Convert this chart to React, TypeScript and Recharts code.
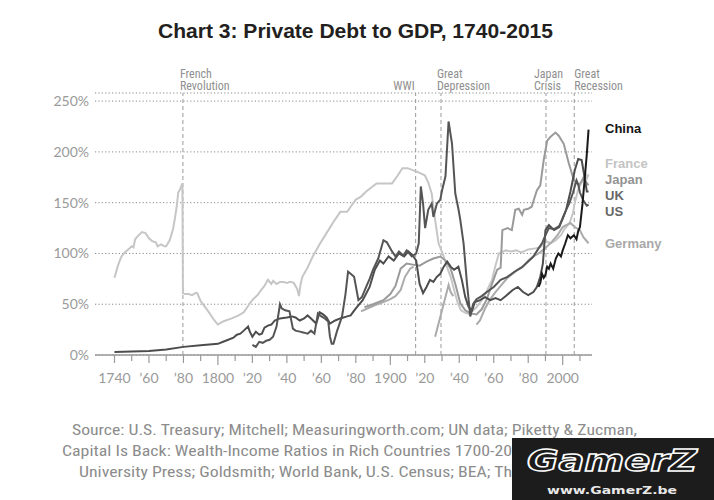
import React from "react";
import { LineChart, Line, XAxis, YAxis, CartesianGrid, ReferenceLine } from "recharts";

type Pt = [number, number];

// [year, private debt as % of GDP]
const france: Pt[] = [
  [1740, 76], [1742, 88], [1744, 97], [1746, 101], [1748, 104], [1750, 107], [1751, 106], [1752, 114],
  [1754, 118], [1756, 121], [1758, 120], [1760, 115], [1762, 112], [1764, 111], [1765, 107], [1767, 109],
  [1769, 107], [1770, 107], [1772, 113], [1774, 124], [1775, 134], [1776, 145], [1777, 160], [1778, 163],
  [1779.4, 169], [1779.7, 61], [1781, 60], [1783, 60], [1785, 59], [1787, 61], [1788, 61], [1790, 53],
  [1794, 44], [1798, 34], [1800, 30], [1803, 33], [1808, 36], [1812, 39], [1815, 42], [1817, 47],
  [1819, 52], [1821, 56], [1823, 59], [1825, 64], [1827, 68], [1829, 74], [1831, 70], [1832, 73],
  [1834, 70], [1836, 72], [1838, 72], [1840, 71], [1842, 72], [1844, 71], [1846, 65], [1847, 58],
  [1848, 70], [1849, 77], [1852, 86], [1855, 97], [1859, 109], [1863, 120], [1867, 131], [1871, 141],
  [1875, 141], [1877, 146], [1880, 153], [1883, 156], [1886, 161], [1889, 165], [1892, 169], [1896, 169],
  [1901, 169], [1904, 176], [1907, 184], [1910, 184], [1913, 182], [1916, 180], [1920, 177], [1922, 170],
  [1924, 159], [1926, 133], [1928, 110], [1931, 97], [1933, 86], [1935, 77], [1937, 64], [1939, 52],
  [1941, 44], [1943, 42], [1946, 40], [1948, 44], [1950, 47], [1953, 54], [1956, 63], [1959, 74],
  [1961, 88], [1963, 100], [1967, 103], [1970, 102], [1973, 103], [1976, 101], [1980, 104], [1984, 105],
  [1987, 106], [1990, 112], [1993, 110], [1996, 113], [1999, 118], [2001, 124], [2004, 130], [2006, 140],
  [2007, 150], [2009, 163], [2011, 170], [2013, 180], [2014, 174], [2015, 178],
];

const uk: Pt[] = [
  [1740, 3], [1750, 3.5], [1760, 4], [1770, 5.5], [1780, 8], [1790, 9.5], [1800, 11], [1803, 13],
  [1806, 15], [1809, 17], [1811, 20], [1813, 21], [1815, 24], [1817.5, 28], [1818.5, 23], [1820, 18],
  [1822, 23], [1824, 20], [1825.5, 21], [1827, 27], [1829, 29], [1831, 30], [1833, 34], [1836, 36],
  [1840, 37], [1843, 38], [1845, 37], [1847.5, 34], [1850, 36], [1852, 39], [1854, 36], [1857, 31],
  [1859, 42], [1861, 40], [1863, 37], [1865, 31], [1868, 34], [1871, 36], [1875, 38], [1877, 39],
  [1880, 46], [1884, 54], [1888, 67], [1891, 84], [1894, 93], [1896, 90], [1899, 97], [1902, 93],
  [1905, 100], [1908, 97], [1910.5, 102], [1913, 98], [1915, 93], [1917, 70], [1919, 61], [1921, 67],
  [1923, 74], [1925, 72], [1927, 77], [1929, 80], [1931, 87], [1933, 92], [1935, 87], [1937, 84],
  [1939.5, 87], [1941.5, 74], [1943.5, 57], [1945.5, 47], [1947.5, 44], [1949, 52], [1952, 54], [1955, 57],
  [1958, 54], [1961, 56], [1964, 54], [1967, 58], [1971, 64], [1974, 67], [1977, 62], [1980, 59],
  [1983, 62], [1985, 67], [1987, 77], [1988.5, 90], [1990, 123], [1992, 128], [1995, 123], [1998, 126],
  [2000, 135], [2002, 143], [2004.5, 161], [2007, 182], [2009, 193], [2011, 192], [2013, 172], [2014, 161],
  [2015, 161],
];

const us: Pt[] = [
  [1820, 10], [1822, 8], [1824, 13], [1826, 12], [1828, 14], [1830, 15], [1832, 18], [1834, 28],
  [1836, 50], [1837, 46], [1839, 44], [1841.5, 43], [1843.5, 26], [1845, 24], [1847.5, 23], [1850, 22],
  [1852, 21], [1854, 24], [1856, 21], [1858, 41], [1860, 38], [1862, 36], [1864, 33], [1865, 18],
  [1866, 11], [1867, 11], [1869, 23], [1872, 38], [1874, 60], [1875.5, 82], [1877, 80], [1879, 77],
  [1880, 68], [1881.5, 54], [1883.5, 57], [1886, 67], [1888, 75], [1890, 84], [1893, 95], [1896, 113],
  [1898, 111], [1901, 102], [1903, 97], [1905, 102], [1907.5, 98], [1909.5, 103], [1912.5, 97], [1915, 100],
  [1916.5, 110], [1917.7, 166], [1919, 149], [1920.2, 125], [1922, 143], [1924, 149], [1925, 136], [1927, 149],
  [1929, 153], [1930, 162], [1932, 176], [1933.8, 230], [1935.8, 208], [1937.7, 159], [1939.6, 143], [1940.6, 133],
  [1942.5, 110], [1944.5, 70], [1946.4, 38], [1948, 50], [1950, 55], [1953, 58], [1956, 62], [1960, 67],
  [1964, 74], [1968, 77], [1972, 82], [1976, 86], [1980, 92], [1983, 97], [1986, 105], [1988, 110],
  [1990, 118], [1992, 125], [1995, 124], [1998, 127], [2000, 134], [2002, 143], [2004, 150], [2006, 160],
  [2008, 172], [2009, 168], [2010, 160], [2012, 152], [2014, 147], [2015, 148],
];

const japan: Pt[] = [
  [1885, 47], [1890, 50], [1896, 54], [1900, 60], [1903, 68], [1906, 85], [1909.5, 90], [1913, 89],
  [1917, 88], [1921, 92], [1925, 95], [1929, 97], [1932, 93], [1935, 85], [1937.7, 70], [1940.6, 51],
  [1943.5, 44], [1946.4, 41], [1950, 40], [1953, 45], [1956, 55], [1959, 70], [1962, 84], [1964, 86],
  [1965, 123], [1968, 125], [1970.5, 123], [1972.5, 143], [1974.5, 144], [1976.5, 138], [1977.5, 143], [1980, 144],
  [1982, 146], [1985, 162], [1987, 167], [1989, 192], [1991, 211], [1993, 215], [1995.8, 219], [1997.7, 216],
  [2000.6, 208], [2003.5, 189], [2006.5, 172], [2009.4, 167], [2012, 174], [2015, 167],
];

const germanyPre: Pt[] = [
  [1883, 43], [1887, 46], [1891, 49], [1896, 52], [1900, 55], [1903, 58], [1906, 64], [1908.5, 77],
  [1911.5, 85], [1913.5, 87],
];
const germanyInter: Pt[] = [
  [1926, 18], [1928, 31], [1930, 44], [1932, 57], [1933.8, 69], [1935, 62], [1936.5, 58],
];
const germanyPost: Pt[] = [
  [1950, 30], [1952, 34], [1955, 46], [1958, 55], [1961, 62], [1965, 70], [1968, 76], [1971, 80],
  [1974, 84], [1977, 87], [1980, 93], [1983, 97], [1986, 100], [1989, 104], [1991, 107], [1994, 112],
  [1997, 118], [2000, 126], [2002, 128], [2004.5, 130], [2007, 126], [2010, 123], [2012, 116], [2014, 112],
  [2015, 110],
];

const china: Pt[] = [
  [1986, 67], [1987, 71], [1988, 80], [1989, 76], [1990, 79], [1991, 87], [1992, 85], [1993, 90],
  [1994.5, 85], [1996, 95], [1997.5, 100], [1999, 97], [2000, 103], [2001.5, 110], [2003, 118], [2004.5, 115],
  [2006.5, 118], [2008, 114], [2009, 122], [2010, 126], [2011.5, 149], [2013, 178], [2014, 198], [2015, 222],
];

const xTickYears = [
  1740, 1750, 1760, 1770, 1780, 1790, 1800, 1810, 1820, 1830, 1840, 1850, 1860, 1870,
  1880, 1890, 1900, 1910, 1920, 1930, 1940, 1950, 1960, 1970, 1980, 1990, 2000, 2010,
];
const xTickLabels = [
  "1740", "", "’60", "", "’80", "", "1800", "", "’20", "", "’40", "", "’60", "",
  "’80", "", "1900", "", "’20", "", "’40", "", "’60", "", "’80", "", "2000", "",
];
const yTicks = [0, 50, 100, 150, 200, 250];

const events = [
  { year: 1779.7, lines: ["French", "Revolution"], anchor: "start", dx: -3 },
  { year: 1914.7, lines: ["WWI"], anchor: "end", dx: -1 },
  { year: 1929.4, lines: ["Great", "Depression"], anchor: "start", dx: -4 },
  { year: 1990.3, lines: ["Japan", "Crisis"], anchor: "start", dx: -12 },
  { year: 2006.7, lines: ["Great", "Recession"], anchor: "start", dx: 0 },
];

const seriesLabels = [
  { name: "China", y: 133, color: "#141414" },
  { name: "France", y: 168, color: "#c4c4c4" },
  { name: "Japan", y: 184, color: "#939393" },
  { name: "UK", y: 200, color: "#666666" },
  { name: "US", y: 216, color: "#666666" },
  { name: "Germany", y: 248, color: "#a8a8a8" },
];

const rows = (pts: Pt[]) => pts.map(([year, v]) => ({ year, v }));

const tickFont = "Lato, 'Noto Sans', sans-serif";
const narrowFont = "'Liberation Sans Narrow', 'Arial Narrow', 'Roboto Condensed', Roboto, sans-serif";

function XTick({ x, y, payload }: any) {
  const i = xTickYears.indexOf(payload.value);
  const label = xTickLabels[i];
  const len = payload.value % 100 === 0 ? 10 : label ? 8 : 6;
  return (
    <g>
      <line x1={x} x2={x} y1={y} y2={y + len} stroke="#9a9a9a" strokeWidth={1.2} />
      {label && (
        <text x={x} y={y + 28} textAnchor="middle" fill="#9a9a9a" fontSize={14} fontFamily={tickFont}>
          {label}
        </text>
      )}
    </g>
  );
}

function YTick({ x, y, payload }: any) {
  return (
    <text x={x - 6} y={y} dy="0.36em" textAnchor="end" fill="#9a9a9a" fontSize={14} fontFamily={tickFont}>
      {payload.value}%
    </text>
  );
}

function EventLabel({ viewBox, lines, anchor, dx }: any) {
  const x = viewBox.x + dx;
  const base = lines.length === 1 ? 90 : 77.5;
  return (
    <text textAnchor={anchor} fill="#8f8f8f" fontSize={12} fontFamily={narrowFont}>
      {lines.map((l: string, i: number) => (
        <tspan key={l} x={x} y={base + i * 12.5}>{l}</tspan>
      ))}
    </text>
  );
}

export default function App() {
  const line = (data: Pt[], color: string, key: string) => (
    <Line
      key={key}
      data={rows(data)}
      dataKey="v"
      type="linear"
      stroke={color}
      strokeWidth={2}
      dot={false}
      isAnimationActive={false}
    />
  );

  return (
    <div style={{ position: "relative", width: 714, height: 500, background: "#fff" }}>
      <style>{"body{margin:0}"}</style>
      <LineChart width={714} height={500} margin={{ top: 93, right: 122, bottom: 115, left: 45 }}>
        <CartesianGrid vertical={false} stroke="#8a8a8a" strokeDasharray="1.2 2.2" />
        <XAxis
          type="number"
          dataKey="year"
          domain={[1728.7, 2017]}
          ticks={xTickYears}
          interval={0}
          allowDataOverflow
          tickSize={0}
          tickMargin={0}
          tickLine={false}
          tick={<XTick />}
          axisLine={{ stroke: "#9a9a9a", strokeWidth: 1.5 }}
          height={30}
        />
        <YAxis
          type="number"
          domain={[0, 258]}
          ticks={yTicks}
          interval={0}
          tickSize={0}
          tickMargin={0}
          axisLine={false}
          tickLine={false}
          tick={<YTick />}
          width={50}
        />
        {events.map((e) => (
          <ReferenceLine
            key={e.year}
            x={e.year}
            stroke="#9a9a9a"
            strokeDasharray="4 3"
            strokeWidth={1}
            label={<EventLabel lines={e.lines} anchor={e.anchor} dx={e.dx} />}
          />
        ))}
        {line(france, "#c6c6c6", "france")}
        {line(germanyPre, "#ababab", "de1")}
        {line(germanyInter, "#ababab", "de2")}
        {line(germanyPost, "#ababab", "de3")}
        {line(japan, "#9a9a9a", "japan")}
        {line(uk, "#4d4d4d", "uk")}
        {line(us, "#555555", "us")}
        {line(china, "#1a1a1a", "china")}
      </LineChart>
      <svg width={714} height={500} style={{ position: "absolute", left: 0, top: 0, pointerEvents: "none" }}>
        <text x={158} y={38} textLength={395} lengthAdjust="spacingAndGlyphs" fontSize={20} fontWeight="bold"
          fill="#231f20" fontFamily="'Liberation Sans', Arial, sans-serif">
          Chart 3: Private Debt to GDP, 1740-2015
        </text>
        {seriesLabels.map((s) => (
          <text key={s.name} x={605} y={s.y} fontSize={13} fontWeight="bold" fill={s.color}
            fontFamily="'Liberation Sans', Arial, sans-serif">
            {s.name}
          </text>
        ))}
        <g fill="#8c8c8c" fontSize={15} fontFamily={narrowFont}>
          <text x={72} y={435} textLength={565} lengthAdjust="spacingAndGlyphs">
            Source: U.S. Treasury; Mitchell; Measuringworth.com; UN data; Piketty &amp; Zucman,
          </text>
          <text x={62} y={456} textLength={450} lengthAdjust="spacingAndGlyphs">
            Capital Is Back: Wealth-Income Ratios in Rich Countries 1700-20
          </text>
          <text x={79} y={477} textLength={433} lengthAdjust="spacingAndGlyphs">
            University Press; Goldsmith; World Bank, U.S. Census; BEA; Th
          </text>
        </g>
        <rect x={512} y={438} width={202} height={62} fill="#1c1c1c" />
        <text x={612} y={471} textAnchor="middle" textLength={170} lengthAdjust="spacingAndGlyphs"
          fontSize={30} fontWeight="bold" fill="#1c1c1c" stroke="#ffffff" strokeWidth={1.5}
          fontFamily="'DejaVu Sans', sans-serif" fontStyle="italic">
          GamerZ
        </text>
        <text x={612} y={494} textAnchor="middle" textLength={130} lengthAdjust="spacingAndGlyphs"
          fontSize={11} fontWeight="bold" fill="#e8e8e8" fontFamily="'DejaVu Sans', sans-serif">
          www.GamerZ.be
        </text>
      </svg>
    </div>
  );
}
